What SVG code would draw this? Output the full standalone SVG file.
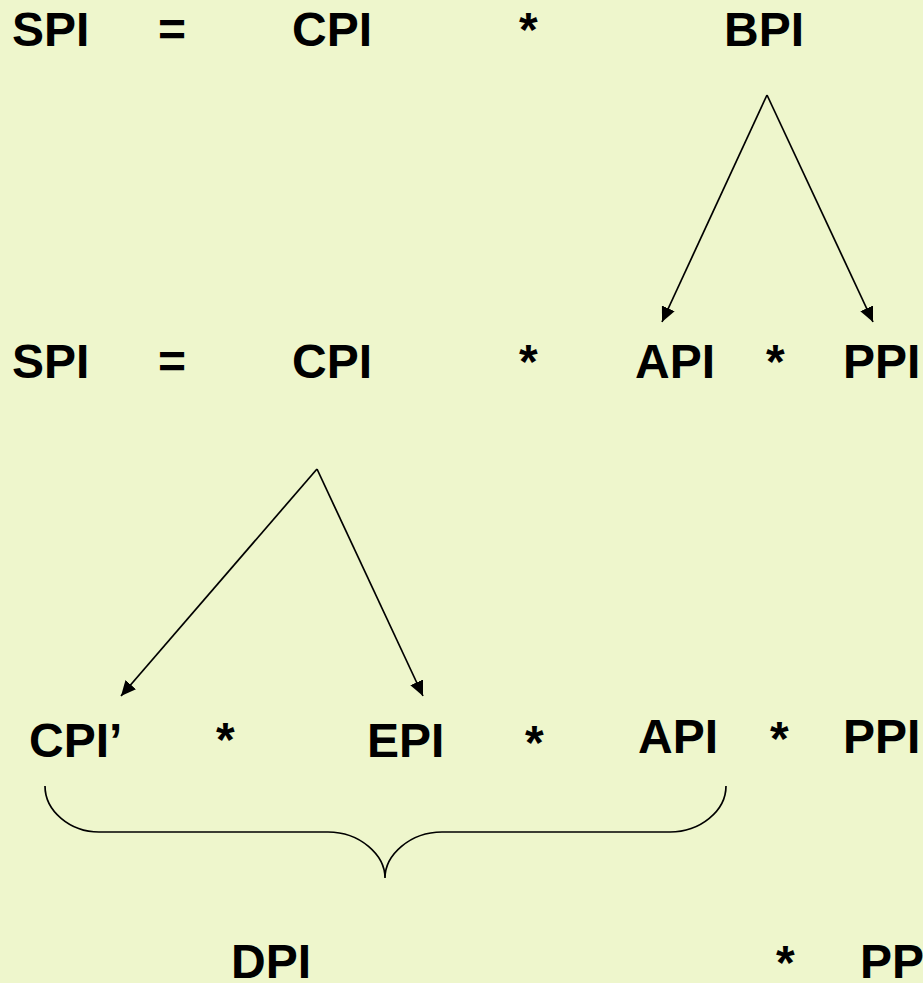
<svg xmlns="http://www.w3.org/2000/svg" width="923" height="983" viewBox="0 0 923 983">
<style>
.t{font-family:"Liberation Sans",Arial,sans-serif;font-weight:bold;font-size:48px;fill:#000}
.c{stroke:#000;stroke-width:1.7;fill:none}
</style>
<defs>
<marker id="ah" markerUnits="userSpaceOnUse" markerWidth="16" markerHeight="14" refX="15" refY="7" orient="auto">
<path d="M0,0 L15,7 L0,14 z" fill="#000"/>
</marker>
</defs>
<rect width="923" height="983" fill="#EEF6CC"/>
<g id="row1">
<text class="t" x="12" y="46">SPI</text>
<text class="t" x="158" y="46">=</text>
<text class="t" x="292" y="46">CPI</text>
<text class="t" x="519" y="46">*</text>
<text class="t" x="724" y="46">BPI</text>
</g>
<g id="row2">
<text class="t" x="12" y="378">SPI</text>
<text class="t" x="158" y="378">=</text>
<text class="t" x="292" y="378">CPI</text>
<text class="t" x="519" y="378">*</text>
<text class="t" x="635" y="378">API</text>
<text class="t" x="766" y="378">*</text>
<text class="t" x="843" y="378">PPI</text>
</g>
<g id="row3">
<text class="t" x="29" y="757">CPI’</text>
<text class="t" x="216" y="756">*</text>
<text class="t" x="367" y="757">EPI</text>
<text class="t" x="525" y="759">*</text>
<text class="t" x="638" y="753">API</text>
<text class="t" x="770" y="755">*</text>
<text class="t" x="843" y="753">PPI</text>
</g>
<g id="row4">
<text class="t" x="231" y="978">DPI</text>
<text class="t" x="776" y="979">*</text>
<text class="t" x="860" y="978">PPI</text>
</g>
<g id="connectors">
<line class="c" x1="767" y1="95" x2="662" y2="322" marker-end="url(#ah)"/>
<line class="c" x1="767" y1="95" x2="873" y2="322" marker-end="url(#ah)"/>
<line class="c" x1="317" y1="469" x2="121" y2="696" marker-end="url(#ah)"/>
<line class="c" x1="317" y1="469" x2="423" y2="696" marker-end="url(#ah)"/>
<path id="brace" class="c" d="M45,786 C45,811 70,832 99,832 L328,832 C360,832 385,855 385,878 C385,855 410,832 442,832 L670,832 C700,832 726,811 726,786"/>
</g>
</svg>
